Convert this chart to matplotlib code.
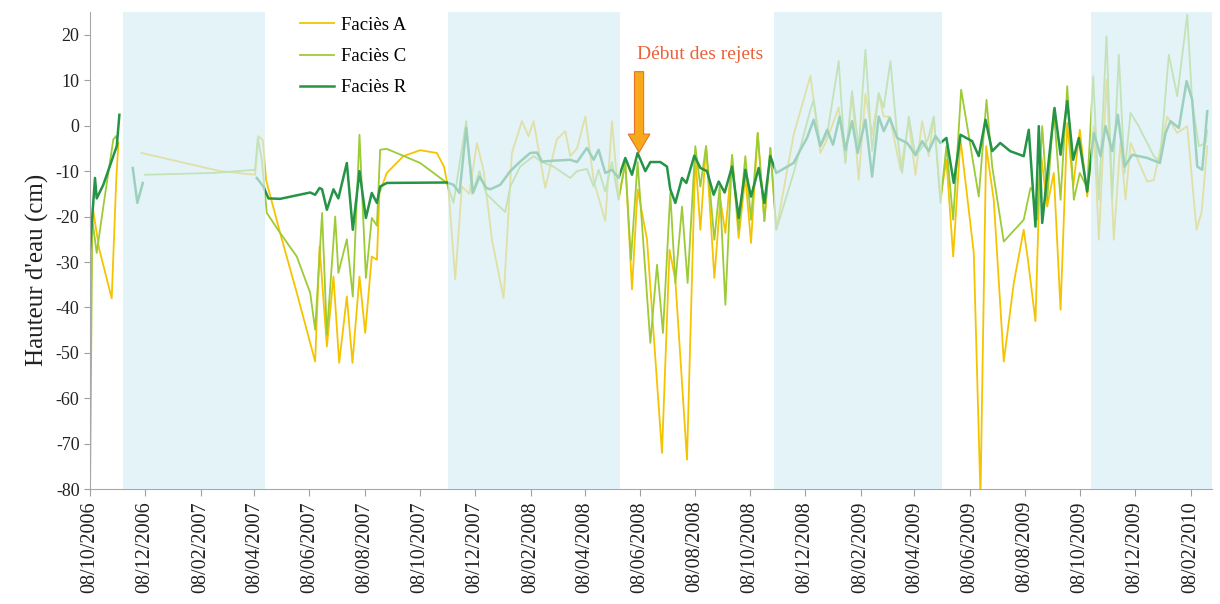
import numpy as np
import pandas as pd
import matplotlib
matplotlib.use("Agg")
import matplotlib.pyplot as plt

# Start of the record: all positions are days counted from this date
start = pd.Timestamp("2006-10-08")

# Faciès A (days since start, water height in cm); nan = gap in the record
days_a = [0, 3, 10, 24, 29, 31.4, 40,
          57, 144, 182.8, 186.5, 191.4, 195, 210.5, 229, 249.3, 254.2, 262.3, 269.6, 275.9,
          284.4, 290.6, 298.4, 304.7, 312, 317.7, 320.5, 328.7, 347, 365.6, 384, 392, 397,
          404.4, 411.8, 420, 428.5, 436, 445, 458, 467.2, 478.3, 485.6, 491.2, 504.1, 517,
          526.3, 531.8, 539.3, 548.5, 557.7, 570.6, 578, 585.4, 592.8, 600.2, 606.4, 616.8,
          633.4, 641.8, 648.2, 661.1, 670.3, 675.9, 682.2, 691.4, 698, 703.6, 711, 718.3,
          725.7, 732, 739.4, 746.8, 753.4, 760, 779.2, 797.8, 808.8, 816.3, 829.1, 836.5,
          843.9, 851.2, 858.7, 866.1, 873.4, 879, 885.6, 897.5, 906.7, 914.1, 921.5, 928.8,
          934.4, 941.8, 948.4, 955.9, 964, 978.7, 986.1, 992.4, 1000.8, 1011.9, 1023, 1034,
          1039, 1047, 1052.6, 1060, 1067.3, 1074.8, 1082.2, 1088.8, 1096.1, 1104.3, 1111.7,
          1117.2, 1125.7, 1133.8, 1141, 1146.8, 1152.3, 1170.8, 1178, 1193, 1204, 1215.1,
          1225.4, 1231, 1237.3]
vals_a = [-45, -18, -27, -38, -12, -3.8, np.nan,
          -6, -10, -10.8, -2.3, -3.2, -12, -23.6, -36.8, -51.9, -26.6, -48.6, -33.2, -52.2,
          -37.6, -52.2, -33.2, -45.6, -28.8, -29.5, -14.8, -10.4, -6.7, -5.4, -6, -9, -14,
          -33.8, -13.4, -15, -3.8, -10, -25, -38, -6, 1, -2.3, 1, -13.7, -3,
          -1.2, -6.7, -5, 2, -12, -21, 1, -16, -8, -36, -14, -25,
          -72, -27.3, -34, -73.5, -6.7, -22.9, -4.5, -33.5, -16.3, -23.6, -6.7, -24.7,
          -11.2, -25.8, -1.6, -21, -4.9, -22.9, -2, 11, -6, -3, 4, -8,
          7, -11.9, 7, -2, 7, 2, 2, -9.7, 1, -10.8, 1, -6.7,
          2, -16, -7.5, -28.8, -3, -28, -81.6, -4.5, -16.3, -51.9, -34.6, -22.9,
          -30, -43, -5.3, -17.8, -10.4, -40.5, 0.6, -13.4, -0.9, -15.6, -0.1,
          -25.1, 10.1, -25.1, -3.8, -16.3, -3.8, -12.3, -12, 2, -1.6, -0.1,
          -22.9, -19, -4.5]

# Faciès C
days_c = [0, 2.5, 7.4, 14.7, 25.8, 28.8, 31, 40,
          61, 136.6, 182.8, 185.8, 190.2, 195.8, 210.5, 229, 243.8, 249.3, 257, 262.3,
          271.5, 275, 284.4, 291, 298.4, 305.5, 312, 317.7, 321.3, 328.7, 365.6, 395.2,
          402.5, 416.6, 423, 431.3, 438.8, 459.8, 465.4, 476.4, 491.2, 500.5, 513.3, 531.8,
          539.3, 550.3, 557.7, 563.2, 570.6, 578, 585.4, 592.8, 599, 606.4, 620.5, 627.9,
          634.5, 642.6, 648.2, 655.6, 661.8, 670.3, 675.9, 682.2, 691.4, 697.3, 703.6, 711,
          718.3, 725.7, 732, 739.4, 746.8, 753.4, 760, 779.2, 797.8, 801.4, 808.8, 816.3,
          829.1, 836.5, 843.9, 851.2, 858.7, 866.1, 873.4, 879, 886.4, 893.8, 899.3, 906.7,
          914.1, 928, 934.4, 941.8, 948.4, 955.9, 964.7, 973, 984.2, 992.8, 999.1, 1011.9,
          1034, 1041.5, 1043.5, 1048.9, 1054.5, 1060, 1067.3, 1074.8, 1082.2, 1089.5, 1096.1,
          1104.3, 1111, 1117.2, 1125.7, 1132, 1139.3, 1145.7, 1152.3, 1161, 1178.1, 1184.8,
          1194.7, 1204, 1215.1, 1220.6, 1228, 1235.4, 1237.3]
vals_c = [-80, -20.7, -28, -17.8, -3, -2.3, -4, np.nan,
          -10.8, -10.4, -9.7, -2.7, -7.5, -19.2, -23.6, -28.8, -36.8, -44.9, -19.2, -46,
          -20, -32.4, -25, -37.6, -2, -33.5, -20.3, -22, -5.3, -5.1, -8.2, -12.6,
          -17, 1, -15, -10, -15, -19, -13.4, -9, -6.7, -8, -9, -11.5,
          -10, -9.5, -13.4, -9.7, -14.5, -8, -16.3, -8.2, -29.5, -8, -47.8, -30.6,
          -45.6, -14.8, -34.6, -17.8, -34.6, -4.5, -13.4, -4.5, -25.1, -13.4, -39.4, -6.4,
          -22.9, -6.7, -20.7, -1.6, -21, -4.9, -22.9, -10.4, 3.5, 5.7, -4.5, -2,
          14.2, -8.2, 7.6, -5, 16.7, -5.5, 7.2, 4, 14.2, -2, -10.4, 2,
          -6.7, -3, 2, -17, -4.5, -20.7, 7.9, -2, -15.6, 5.7, -9, -25.5,
          -20.7, -13.7, -14, -20.7, -0.1, -16.3, 3.5, -16.3, 8.7, -16.3, -10.4,
          -13.7, 10.9, -16.3, 19.7, -16, 15.6, -10.4, 2.8, 0, -6.7, -8,
          15.6, 6.5, 24.4, 5, -4.5, -3.8, -1]

# Faciès R
days_r = [0, 5.5, 7.4, 14.7, 29.6, 32.5, 40,
          47.3, 52.4, 58.4, 120,
          184.7, 192, 197.6, 210.5, 243.8, 249.3, 254.2, 257, 262.3, 269.6, 275, 284.4,
          291, 298.4, 305.5, 312, 317.7, 321.3, 328.7, 395.2, 402.5, 409.2, 416.6, 424,
          431.3, 438.8, 443.2, 454.3, 465.4, 476.4, 487.5, 494.9, 500.5, 513.3, 531.8,
          539.3, 550.3, 557.7, 563.2, 570.6, 578, 585.4, 592.8, 600.2, 606.4, 614.9, 620.5,
          631.6, 638.9, 642.6, 648.2, 655.6, 660.4, 669.2, 675.9, 683.3, 690.6, 696.2, 702.8,
          711, 718.3, 725.7, 732, 740.5, 746.8, 753.4, 760, 779.2, 786.7, 794, 801.4, 808.8,
          816.3, 822.8, 830.2, 836.5, 843.9, 850.1, 858.7, 866.1, 873.4, 879, 885.6, 893.8,
          904.9, 914.1, 921.5, 928.8, 936.3, 941.8, 948.4, 956.5, 964, 976.9, 984.2, 991.7,
          999.1, 1008, 1019, 1034, 1039.6, 1047, 1050.7, 1054.5, 1061.8, 1068.1, 1074.8,
          1082.2, 1088.8, 1095, 1104.3, 1111.7, 1119.1, 1124.6, 1132, 1138.2, 1145.7, 1154.2,
          1170.8, 1184.8, 1191.1, 1196.6, 1205.8, 1214.4, 1220.6, 1226.2, 1231.7, 1237.3]
vals_r = [-27, -11.5, -16, -13, -4.5, 2.4, np.nan,
          -9.3, -17, -12.6, np.nan,
          -11.5, -13.4, -16, -16.1, -14.7, -15.2, -13.7, -14, -18.5, -14, -16, -8.2,
          -22.9, -10, -20.3, -14.8, -17, -13.4, -12.6, -12.5, -13, -14.8, -0.5, -14.8,
          -11.2, -13.7, -14, -13, -10, -7.9, -6, -5.9, -7.9, -7.7, -7.5,
          -8, -4.9, -7.5, -5.3, -10.4, -9.7, -11.5, -7.1, -10.8, -6, -10, -8,
          -8, -9, -14, -17, -11.5, -12.6, -6.6, -9.3, -10, -15.2, -12.3, -14.7,
          -9, -20.3, -9.7, -15.6, -9.3, -17, -6.7, -10.4, -8.2, -5.3, -2.7, 1.3, -4.5,
          -0.9, -4.2, 2, -5.3, 1, -6, 1.3, -11.2, 2, -1.2, 1.7, -2.7,
          -3.8, -6.4, -3.4, -5.6, -2.3, -3.8, -2.7, -12.6, -2, -3.4, -6.7, 1.3,
          -5.6, -3.8, -5.6, -6.7, -0.9, -22.2, -0.1, -21.4, -7.5, 3.9, -6.4,
          5.4, -7.5, -2.7, -14.5, -1.6, -6.7, -0.1, -5.6, 2.4, -9, -6.4,
          -7.1, -8.2, -1.6, 1, -0.5, 9.8, 5.7, -9, -9.7, 3.2]

# Shaded winter periods
periods = [("2006-11-14", "2007-04-20"), ("2007-11-08", "2008-05-17"),
           ("2008-11-03", "2009-05-09"), ("2009-10-21", "2010-03-20")]

# X tick labels (every two months)
tick_labels = ["08/10/2006", "08/12/2006", "08/02/2007", "08/04/2007", "08/06/2007",
               "08/08/2007", "08/10/2007", "08/12/2007", "08/02/2008", "08/04/2008",
               "08/06/2008", "08/08/2008", "08/10/2008", "08/12/2008", "08/02/2009",
               "08/04/2009", "08/06/2009", "08/08/2009", "08/10/2009", "08/12/2009",
               "08/02/2010"]

release_day = 608  # début des rejets


def to_dates(days):
    return start + pd.to_timedelta(np.asarray(days, dtype=float), unit="D")


plt.rcParams["font.family"] = ["Liberation Serif", "DejaVu Serif"]
plt.rcParams["axes.unicode_minus"] = False

fig = plt.figure(figsize=(12.2, 6.04), dpi=100)
ax = fig.add_axes([0.0738, 0.19, 0.920, 0.790])

ax.plot(to_dates(days_a), vals_a, color="#F5C400", lw=1.3, label="Faciès A", zorder=2)
ax.plot(to_dates(days_c), vals_c, color="#9CCB36", lw=1.3, label="Faciès C", zorder=2)
ax.plot(to_dates(days_r), vals_r, color="#259447", lw=1.8, label="Faciès R", zorder=2)

# light blue bands drawn over the lines, like the original
for p0, p1 in periods:
    ax.axvspan(pd.Timestamp(p0), pd.Timestamp(p1), color="#D6EEF6", alpha=0.68,
               lw=0, zorder=3)

x_end = start + pd.Timedelta(days=1243)
ax.set_xlim(start, x_end)
ax.set_ylim(-80, 25)

ticks = pd.to_datetime(tick_labels, format="%d/%m/%Y")
ax.set_xticks(ticks)
ax.set_xticklabels(tick_labels, rotation=90, fontsize=14.5, color="#222222")
ax.set_yticks(np.arange(-80, 21, 10))
ax.tick_params(axis="y", labelsize=13, colors="#222222", length=4, color="#A0A0A0")
ax.tick_params(axis="x", length=5, color="#A0A0A0")

for s in ["top", "right"]:
    ax.spines[s].set_visible(False)
for s in ["left", "bottom"]:
    ax.spines[s].set_color("#A8A8A8")

ax.set_ylabel("Hauteur d'eau (cm)", fontsize=18, color="#222222")
ax.yaxis.set_label_coords(-0.037, 0.46)

# Arrow and text for the start of discharges
xr = start + pd.Timedelta(days=release_day)
ax.annotate("", xy=(xr, -6.5), xytext=(xr, 12.5),
            arrowprops=dict(arrowstyle="simple,head_width=1.3,head_length=1.1,tail_width=0.55",
                            fc="#F7A81B", ec="#E8742A", lw=0.8, mutation_scale=12),
            zorder=6)
ax.text(start + pd.Timedelta(days=676), 15.6, "Début des rejets", fontsize=14,
        color="#E8623A", ha="center", va="center", zorder=6)

leg = ax.legend(loc="upper left", bbox_to_anchor=(0.187, 0.99), frameon=False,
                fontsize=13.5, handlelength=1.8, labelspacing=0.75, handletextpad=0.4,
                borderpad=0, borderaxespad=0)
leg.set_zorder(7)

fig.savefig("out.png", dpi=100)
